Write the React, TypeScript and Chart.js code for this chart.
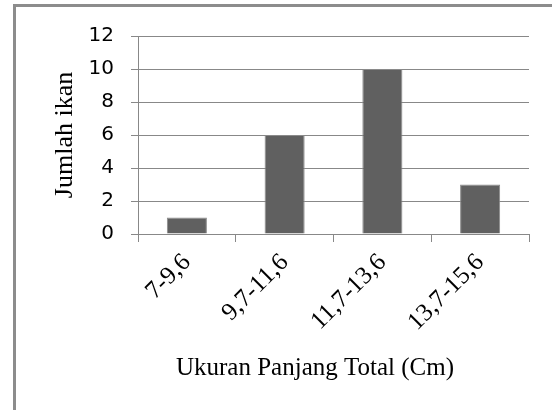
import React, { useEffect, useRef } from "react";
import { Chart, registerables } from "chart.js";

Chart.register(...registerables);

const categories = ["7-9,6", "9,7-11,6", "11,7-13,6", "13,7-15,6"];
const counts = [1, 6, 10, 3];
const yTitle = "Jumlah ikan";
const xTitle = "Ukuran Panjang Total (Cm)";

const xTitlePlugin = {
  id: "xTitlePlugin",
  afterDraw(chart: any) {
    const ctx = chart.ctx;
    ctx.save();
    ctx.font = "25px 'Liberation Serif'";
    ctx.fillStyle = "#000";
    ctx.textAlign = "center";
    ctx.textBaseline = "middle";
    ctx.fillText(xTitle, 315, 368);
    ctx.restore();
  },
};

export default function App() {
  const ref = useRef<HTMLCanvasElement>(null);
  useEffect(() => {
    const chart = new Chart(ref.current!, {
      type: "bar",
      data: {
        labels: categories,
        datasets: [
          {
            data: counts,
            backgroundColor: "#606060",
            borderColor: "#8a8a8a",
            borderWidth: 1,
            barPercentage: 0.41,
            categoryPercentage: 1,
          },
        ],
      },
      options: {
        responsive: false,
        animation: false,
        devicePixelRatio: 1,
        layout: { padding: { left: 46, top: 36, right: 23, bottom: 0 } },
        plugins: { legend: { display: false }, tooltip: { enabled: false } },
        scales: {
          x: {
            afterFit: (s: any) => {
              s.height = 176;
            },
            grid: { drawOnChartArea: false, tickLength: 8, color: "#888", offset: true },
            border: { display: true, color: "#888" },
            ticks: {
              maxRotation: 45,
              minRotation: 45,
              autoSkip: false,
              padding: 6,
              color: "#000",
              font: { family: "'Liberation Serif'", size: 25 },
            },
          },
          y: {
            min: 0,
            max: 12,
            afterFit: (s: any) => {
              s.width = 92;
            },
            grid: { color: "#888", tickLength: 7 },
            border: { display: true, color: "#888" },
            ticks: {
              stepSize: 2,
              padding: 17,
              color: "#000",
              font: { family: "'DejaVu Sans'", size: 20 },
            },
            title: {
              display: true,
              text: yTitle,
              color: "#000",
              font: { family: "'Liberation Serif'", size: 26 },
              padding: { top: 4, bottom: 0 },
            },
          },
        },
      },
      plugins: [xTitlePlugin],
    });
    return () => chart.destroy();
  }, []);
  return (
    <div style={{ position: "fixed", left: 0, top: 0, width: 552, height: 410, background: "#fff" }}>
      <div
        style={{
          position: "absolute",
          left: 13,
          top: 4,
          width: 600,
          height: 500,
          borderLeft: "3px solid #8c8c8c",
          borderTop: "3px solid #8c8c8c",
          boxSizing: "border-box",
        }}
      />
      <canvas ref={ref} width={552} height={410} style={{ position: "absolute", left: 0, top: 0 }} />
    </div>
  );
}
